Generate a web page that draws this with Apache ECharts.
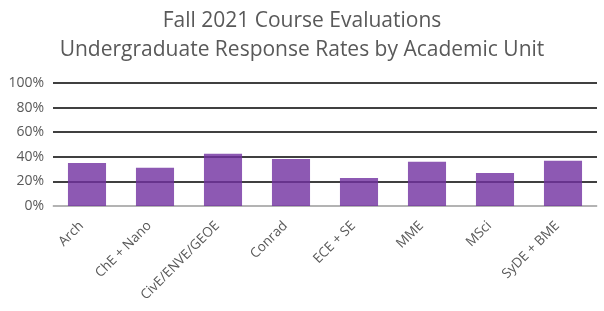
<!DOCTYPE html>
<html>
<head>
<meta charset="utf-8">
<script src="https://cdn.jsdelivr.net/npm/echarts@6/dist/echarts.min.js"></script>
<style>
  html, body { margin: 0; padding: 0; background: #fff; }
  #chart { width: 604px; height: 311px; }
</style>
</head>
<body>
<div id="chart"></div>
<script>
// data
const units = ['Arch', 'ChE + Nano', 'CivE/ENVE/GEOE', 'Conrad', 'ECE + SE', 'MME', 'MSci', 'SyDE + BME'];
const responseRates = [35.0, 31.0, 42.4, 38.3, 22.8, 35.9, 26.9, 36.7];

const chart = echarts.init(document.getElementById('chart'), null, { renderer: 'canvas' });

chart.setOption({
    animation: false,
    title: {
        text: 'Fall 2021 Course Evaluations\nUndergraduate Response Rates by Academic Unit',
        left: 'center',
        top: 2,
        textStyle: {
            fontFamily: 'Open Sans',
            fontWeight: 'normal',
            fontSize: 21,
            color: '#595959',
            lineHeight: 29
        }
    },
    grid: { left: 53, right: 7, top: 83, bottom: 105 },
    xAxis: {
        type: 'category',
        data: units,
        axisLine: { lineStyle: { color: '#d9d9d9', width: 1.5 } },
        axisTick: { show: false },
        axisLabel: {
            rotate: 45,
            interval: 0,
            fontFamily: 'Open Sans',
            fontSize: 13.5,
            color: '#595959',
            margin: 12,
            padding: [0, 8, 0, 0]
        }
    },
    yAxis: {
        type: 'value',
        min: 0,
        max: 100,
        interval: 20,
        axisLine: { show: false },
        axisTick: { show: false },
        axisLabel: {
            formatter: '{value}%',
            fontFamily: 'Open Sans',
            fontSize: 14,
            color: '#595959',
            margin: 9
        },
        splitLine: { lineStyle: { color: '#000', width: 1.5 } }
    },
    series: [{
        type: 'bar',
        data: responseRates,
        barCategoryGap: '44%',
        itemStyle: { color: 'rgba(112,48,160,0.8)' }
    }]
});
</script>
</body>
</html>
